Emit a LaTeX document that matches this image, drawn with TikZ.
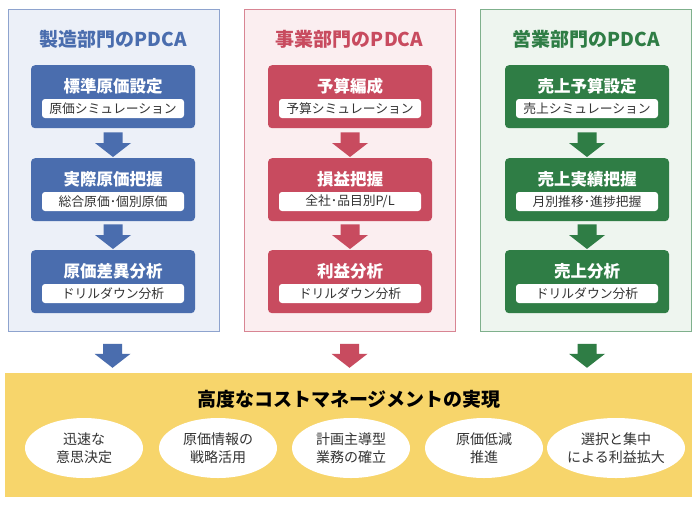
\documentclass[tikz,border=0pt]{standalone}
\usepackage{fontspec}
\setmainfont{Noto Sans CJK JP}
\usetikzlibrary{calc,positioning,shapes.geometric}
\definecolor{cblue}{HTML}{4A6DAE}
\definecolor{pblue}{HTML}{ECF0F8}
\definecolor{bblue}{HTML}{8EA3CE}
\definecolor{cred}{HTML}{C84B5F}
\definecolor{pred}{HTML}{FBEEF0}
\definecolor{bred}{HTML}{D88593}
\definecolor{cgreen}{HTML}{2F7D45}
\definecolor{pgreen}{HTML}{EEF5EF}
\definecolor{bgreen}{HTML}{7FB08C}
\definecolor{cyellow}{HTML}{F7D56B}
\definecolor{txt}{HTML}{333333}
\newcommand\blockarrow[3]{%
  \fill[#3] let \p1=(#1), \p2=(#2) in
    (\x1-9.5pt,\y1) -- (\x1+9.5pt,\y1) -- (\x1+9.5pt,\y2+14pt) -- (\x1+18pt,\y2+14pt)
    -- (\x1,\y2) -- (\x1-18pt,\y2+14pt) -- (\x1-9.5pt,\y2+14pt) -- cycle;}
\tikzset{
  panel/.style={draw=#1, line width=0.8pt, minimum width=211pt, minimum height=322pt, anchor=north, inner sep=0pt},
  ptitle/.style={text=#1, font=\bfseries\fontsize{19}{22}\selectfont},
  stepbox/.style={fill=#1, rounded corners=4pt, minimum width=164pt, minimum height=63pt, anchor=north, inner sep=0pt},
  mtitle/.style={text=white, font=\bfseries\fontsize{16.5}{19}\selectfont},
  subbox/.style={fill=white, rounded corners=3pt, minimum width=142pt, minimum height=19pt, inner sep=0pt, text=txt, font=\fontsize{12.8}{15}\selectfont},
  goal/.style={ellipse, fill=white, minimum width=118pt, minimum height=60pt, inner sep=0pt, align=center, text=txt, font=\fontsize{14}{18}\selectfont},
}
\begin{document}
\begin{tikzpicture}[x=1pt,y=-1pt]
\useasboundingbox[fill=white] (0,0) rectangle (700,506);
% panels
\node[panel=bblue, fill=pblue] (p1) at (113.5,9) {};
\node[panel=bred, fill=pred] (p2) at (349.5,9) {};
\node[panel=bgreen, fill=pgreen] (p3) at (586,9) {};
% titles
\node[ptitle=cblue] (t1) at (113,39) {製造部門のPDCA};
\node[ptitle=cred] (t2) at (349.5,39) {事業部門のPDCA};
\node[ptitle=cgreen] (t3) at (586,39) {営業部門のPDCA};
% column 1
\node[stepbox=cblue] (a1) at (113,65) {};
\node[stepbox=cblue] (a2) at (113,158) {};
\node[stepbox=cblue] (a3) at (113,250) {};
\node[mtitle] (a1t) at ($(a1.north)+(0,21)$) {標準原価設定};
\node[subbox] (a1s) at ($(a1.north)+(0,43.5)$) {原価シミュレーション};
\node[mtitle] (a2t) at ($(a2.north)+(0,21)$) {実際原価把握};
\node[subbox] (a2s) at ($(a2.north)+(0,43.5)$) {総合原価･個別原価};
\node[mtitle] (a3t) at ($(a3.north)+(0,21)$) {原価差異分析};
\node[subbox] (a3s) at ($(a3.north)+(0,43.5)$) {ドリルダウン分析};
% column 2
\node[stepbox=cred] (b1) at (350,65) {};
\node[stepbox=cred] (b2) at (350,158) {};
\node[stepbox=cred] (b3) at (350,250) {};
\node[mtitle] (b1t) at ($(b1.north)+(0,21)$) {予算編成};
\node[subbox] (b1s) at ($(b1.north)+(0,43.5)$) {予算シミュレーション};
\node[mtitle] (b2t) at ($(b2.north)+(0,21)$) {損益把握};
\node[subbox] (b2s) at ($(b2.north)+(0,43.5)$) {全社･品目別P/L};
\node[mtitle] (b3t) at ($(b3.north)+(0,21)$) {利益分析};
\node[subbox] (b3s) at ($(b3.north)+(0,43.5)$) {ドリルダウン分析};
% column 3
\node[stepbox=cgreen] (c1) at (587,65) {};
\node[stepbox=cgreen] (c2) at (587,158) {};
\node[stepbox=cgreen] (c3) at (587,250) {};
\node[mtitle] (c1t) at ($(c1.north)+(0,21)$) {売上予算設定};
\node[subbox] (c1s) at ($(c1.north)+(0,43.5)$) {売上シミュレーション};
\node[mtitle] (c2t) at ($(c2.north)+(0,21)$) {売上実績把握};
\node[subbox] (c2s) at ($(c2.north)+(0,43.5)$) {月別推移･進捗把握};
\node[mtitle] (c3t) at ($(c3.north)+(0,21)$) {売上分析};
\node[subbox] (c3s) at ($(c3.north)+(0,43.5)$) {ドリルダウン分析};
% step arrows
\coordinate (a12t) at ($(a1.south)+(0,4)$); \coordinate (a12b) at ($(a2.north)+(0,-1)$);
\coordinate (a23t) at ($(a2.south)+(0,3)$); \coordinate (a23b) at ($(a3.north)+(0,-1)$);
\coordinate (b12t) at ($(b1.south)+(0,4)$); \coordinate (b12b) at ($(b2.north)+(0,-1)$);
\coordinate (b23t) at ($(b2.south)+(0,3)$); \coordinate (b23b) at ($(b3.north)+(0,-1)$);
\coordinate (c12t) at ($(c1.south)+(0,4)$); \coordinate (c12b) at ($(c2.north)+(0,-1)$);
\coordinate (c23t) at ($(c2.south)+(0,3)$); \coordinate (c23b) at ($(c3.north)+(0,-1)$);
\blockarrow{a12t}{a12b}{cblue}
\blockarrow{a23t}{a23b}{cblue}
\blockarrow{b12t}{b12b}{cred}
\blockarrow{b23t}{b23b}{cred}
\blockarrow{c12t}{c12b}{cgreen}
\blockarrow{c23t}{c23b}{cgreen}
% bottom region
\node[fill=cyellow, minimum width=687pt, minimum height=124pt, anchor=north west, inner sep=0pt] (y) at (5,373) {};
\node[font=\bfseries\fontsize{19}{22}\selectfont, text=black] (yt) at (349,399) {高度なコストマネージメントの実現};
\node[goal] (g1) at (84,448) {迅速な\\意思決定};
\node[goal] (g2) at (218,448) {原価情報の\\戦略活用};
\node[goal] (g3) at (351,448) {計画主導型\\業務の確立};
\node[goal] (g4) at (484,448) {原価低減\\推進};
\node[goal] (g5) at (616,448) {選択と集中\\による利益拡大};
% panel to goal arrows
\coordinate (pa1) at ($(p1.south)+(-1,12)$); \coordinate (ya1) at ($(pa1)+(0,24)$);
\coordinate (pa2) at ($(p2.south)+(0,12)$); \coordinate (ya2) at ($(pa2)+(0,24)$);
\coordinate (pa3) at ($(p3.south)+(1,12)$); \coordinate (ya3) at ($(pa3)+(0,24)$);
\blockarrow{pa1}{ya1}{cblue}
\blockarrow{pa2}{ya2}{cred}
\blockarrow{pa3}{ya3}{cgreen}
\end{tikzpicture}
\end{document}
